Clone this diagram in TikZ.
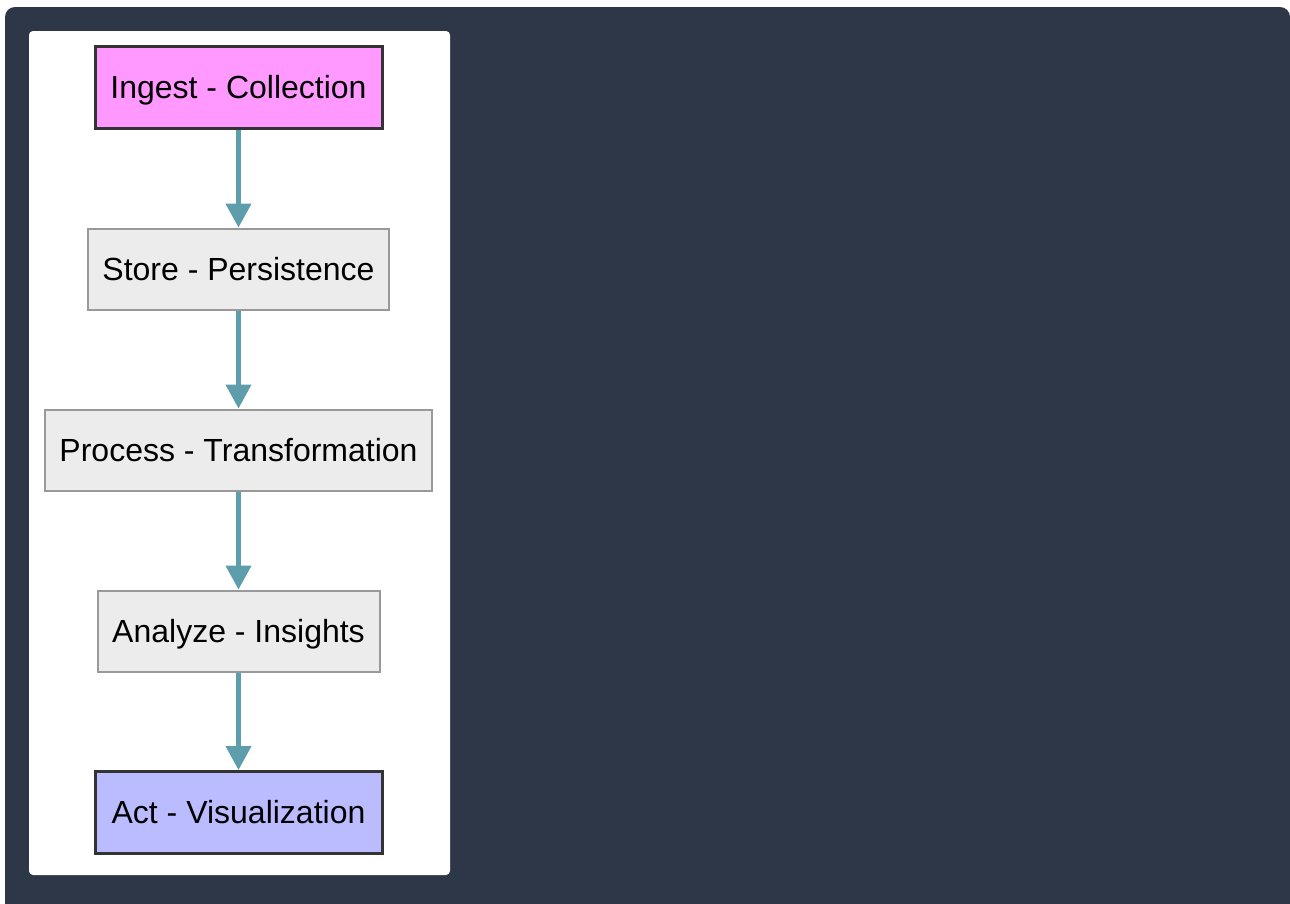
\documentclass[tikz,border=0pt]{standalone}
\usepackage{fontspec}
\setmainfont{Liberation Sans}
\usetikzlibrary{arrows.meta}
\definecolor{panelbg}{HTML}{2E3748}
\definecolor{pinkfill}{HTML}{FF99FF}
\definecolor{bluefill}{HTML}{BBBBFF}
\definecolor{greyfill}{HTML}{ECECEC}
\definecolor{greyline}{HTML}{999999}
\definecolor{darkline}{HTML}{333333}
\definecolor{linkcol}{HTML}{5E9DAB}
\tikzset{
  stage/.style={rectangle, fill=greyfill, draw=greyline, line width=1.5pt,
    minimum height=60.75pt, inner sep=0pt, text height=17.2pt, text depth=0pt,
    font=\fontsize{24}{28}\selectfont, text=black},
  endpoint/.style={stage, draw=darkline, line width=2.25pt, minimum height=61.5pt},
  link/.style={draw=linkcol, line width=3.2pt,
    -{Triangle[width=18.75pt,length=18pt]}, shorten >=0pt}
}
\begin{document}
\begin{tikzpicture}[x=0.75pt,y=-0.75pt]
  \useasboundingbox (0,0) rectangle (1290,904);
  \fill[white] (0,0) rectangle (1290,904);
  \begin{scope}
    \clip (0,0) rectangle (1290,904);
    \fill[panelbg, rounded corners=7.5pt] (5,7) rectangle (1290,940);
  \end{scope}
  \fill[white, rounded corners=3pt] (29,31) rectangle (450,875);

  \node[endpoint, fill=pinkfill, minimum width=215.25pt] (ingest) at (238.5,87.5) {Ingest - Collection};
  \node[stage, minimum width=225.75pt] (store) at (238.5,269) {Store - Persistence};
  \node[stage, minimum width=290.25pt] (process) at (238.5,450) {Process - Transformation};
  \node[stage, minimum width=211.5pt] (analyze) at (238.5,631) {Analyze - Insights};
  \node[endpoint, fill=bluefill, minimum width=215.25pt] (act) at (238.5,812.5) {Act - Visualization};

  \draw[link] (ingest.south) -- (store.north);
  \draw[link] (store.south) -- (process.north);
  \draw[link] (process.south) -- (analyze.north);
  \draw[link] (analyze.south) -- (act.north);
\end{tikzpicture}
\end{document}
